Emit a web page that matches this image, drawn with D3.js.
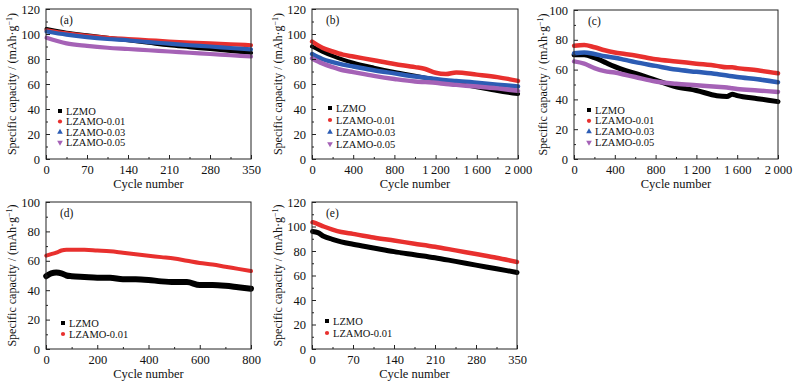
<!DOCTYPE html>
<html><head><meta charset="utf-8">
<script src="https://cdn.jsdelivr.net/npm/d3@7"></script>
<style>
body{margin:0;background:#fff;}
svg{display:block;}
text{font-family:"Liberation Serif","Times New Roman",serif;fill:#111;font-weight:normal;}
</style></head>
<body>
<svg id="chart" width="796" height="388"></svg>
<script>
// ---------- DATA ----------
const seriesNames = ["LZMO", "LZAMO-0.01", "LZAMO-0.03", "LZAMO-0.05"];

const aCycles = [1, 35, 70, 105, 140, 175, 210, 245, 280, 315, 350];
const aLZMO   = [104, 101, 99, 97, 95, 93, 91, 89.5, 88, 86.5, 85];
const aL001   = [103, 100.5, 98.5, 97, 96, 95, 94, 93.2, 92.5, 91.8, 91];
const aL003   = [102, 99.5, 97.5, 96, 95, 93.5, 92.3, 91, 90, 88.8, 87.7];
const aL005   = [97, 92.5, 90.5, 89, 88, 87, 86, 85, 84, 83, 82];

const bCycles = [1, 100, 200, 300, 400, 600, 800, 1000, 1100, 1200, 1300, 1400, 1600, 1800, 2000];
const bLZMO   = [90, 86, 82.5, 79.5, 77, 73, 69.5, 66.5, 65, 63.5, 62, 60.5, 57.5, 54.5, 52];
const bL001   = [94, 89, 86, 83.5, 82, 79, 76, 73.5, 72, 69, 68, 69.3, 67.5, 65.5, 62.5];
const bL003   = [84, 80, 77.5, 75.5, 74, 71, 68.5, 66, 65, 64, 63, 62.5, 61, 59.5, 58];
const bL005   = [80.5, 76.5, 73.5, 71, 69.5, 66.5, 64, 62, 61.5, 61, 60, 59.3, 58, 56.5, 54.5];

const cCycles = [1, 100, 200, 300, 400, 500, 600, 800, 1000, 1200, 1400, 1500, 1550, 1600, 1800, 2000];
const cLZMO   = [70, 70, 68, 65, 62, 59.5, 57.5, 53, 48.5, 46, 42.5, 42, 43.5, 42.5, 40.5, 38.5];
const cL001   = [76, 76.5, 75, 73, 71.5, 70.5, 69.5, 67, 65.5, 64, 62.5, 61.5, 61.5, 61, 59.5, 57.5];
const cL003   = [71, 71.5, 70.5, 69, 68, 66.5, 65, 62.5, 60, 58.5, 57, 56, 55.5, 55, 53.5, 51.5];
const cL005   = [65.5, 64, 61, 59, 58, 56.5, 55, 52, 50.5, 49.5, 48.5, 48, 47.5, 47, 46, 45];

const dCycles = [1, 20, 40, 60, 80, 100, 150, 200, 250, 300, 350, 400, 450, 500, 550, 600, 650, 700, 750, 800];
const dLZMO   = [49.5, 51.5, 52, 51.5, 50, 49.5, 49, 48.5, 48.5, 47.5, 47.5, 47, 46, 45.5, 45.5, 43.5, 43.5, 43, 42, 41];
const dL001   = [63.5, 64.5, 65.5, 67, 67.5, 67.5, 67.5, 67, 66.5, 65.5, 64.5, 63.5, 62.5, 61.5, 60, 58.5, 57.5, 56, 54.5, 53];

const eCycles = [1, 10, 20, 35, 50, 70, 105, 140, 175, 210, 245, 280, 315, 350];
const eLZMO   = [96, 95, 92, 89.5, 87.5, 85.5, 82.5, 79.5, 77, 74.5, 71.5, 68.5, 65.5, 62.5];
const eL001   = [103.5, 102, 100, 97.5, 95.5, 94, 91, 88.5, 86, 83.5, 80.5, 77.5, 74.5, 71];

const ticks350  = [0, 70, 140, 210, 280, 350];
const ticks2000 = [0, 400, 800, 1200, 1600, 2000];
const ticks800  = [0, 200, 400, 600, 800];
const labels2000 = ["0", "400", "800", "1\u2009200", "1\u2009600", "2\u2009000"];
const yTicks120 = [0, 20, 40, 60, 80, 100, 120];
const yTicks100 = [0, 20, 40, 60, 80, 100];

// ---------- STYLE ----------
const colors = ["#000000", "#e8302e", "#2c5cb4", "#a562b6"];
const symbols = [d3.symbolSquare, d3.symbolCircle, d3.symbolTriangle, d3.symbolTriangle];

const svg = d3.select("#chart");

const panels = [
  {tag:"(a)", L:46, T:9, W:205, H:150, xMax:350, yMax:120, xt:ticks350, xl:null, yt:yTicks120,
   cyc:aCycles, ser:[aLZMO,aL001,aL003,aL005], widths:[4.2,4.2,4.2,4.2], legX:60, legY:111, legDy:10.5, ylabX:12},
  {tag:"(b)", L:312, T:9, W:206, H:150, xMax:2000, yMax:120, xt:ticks2000, xl:labels2000, yt:yTicks120,
   cyc:bCycles, ser:[bLZMO,bL001,bL003,bL005], widths:[4.2,4.5,4.5,4.5], legX:330, legY:108, legDy:12, ylabX:278},
  {tag:"(c)", L:574, T:10, W:204, H:149, xMax:2000, yMax:100, xt:ticks2000, xl:labels2000, yt:yTicks100,
   cyc:cCycles, ser:[cLZMO,cL001,cL003,cL005], widths:[5,4.5,4.5,4.5], legX:589, legY:110, legDy:10.8, ylabX:543},
  {tag:"(d)", L:46, T:202, W:205, H:147, xMax:800, yMax:100, xt:ticks800, xl:null, yt:yTicks100,
   cyc:dCycles, ser:[dLZMO,dL001], widths:[6,4], legX:63, legY:323, legDy:11, ylabX:12},
  {tag:"(e)", L:312, T:202, W:205, H:147, xMax:350, yMax:120, xt:ticks350, xl:null, yt:yTicks120,
   cyc:eCycles, ser:[eLZMO,eL001], widths:[5,4.5], legX:327, legY:321, legDy:12, ylabX:278}
];

panels.forEach(p => {
  const g = svg.append("g").attr("transform", `translate(${p.L},${p.T})`);
  const x = d3.scaleLinear().domain([0, p.xMax]).range([0, p.W]);
  const y = d3.scaleLinear().domain([0, p.yMax]).range([p.H, 0]);

  // data lines
  const line = d3.line().x(d => x(d[0])).y(d => y(d[1])).curve(d3.curveMonotoneX);
  p.ser.forEach((s, i) => {
    const pts = p.cyc.map((c, k) => [c, s[k]]);
    g.append("path").datum(pts).attr("d", line)
      .attr("fill", "none").attr("stroke", colors[i])
      .attr("stroke-width", p.widths[i]).attr("stroke-linecap", "round").attr("stroke-linejoin", "round");
  });

  // frame
  g.append("rect").attr("x", 0).attr("y", 0).attr("width", p.W).attr("height", p.H)
    .attr("fill", "none").attr("stroke", "#222").attr("stroke-width", 1);

  // minor ticks
  const xStep = p.xt[1] - p.xt[0];
  const yStep = p.yt[1] - p.yt[0];
  const xMinor = d3.range(xStep / 2, p.xMax, xStep);
  const yMinor = d3.range(yStep / 2, p.yMax, yStep);
  g.append("g").attr("transform", `translate(0,${p.H})`)
    .call(d3.axisBottom(x).tickValues(xMinor).tickSize(-2).tickFormat(""))
    .call(a => { a.select(".domain").remove(); a.selectAll("line").attr("stroke", "#222"); });
  g.append("g")
    .call(d3.axisLeft(y).tickValues(yMinor).tickSize(-2).tickFormat(""))
    .call(a => { a.select(".domain").remove(); a.selectAll("line").attr("stroke", "#222"); });

  // major axes
  const xa = d3.axisBottom(x).tickValues(p.xt).tickSizeInner(-4).tickSizeOuter(0).tickPadding(6)
    .tickFormat((d, i) => p.xl ? p.xl[i] : String(d));
  g.append("g").attr("transform", `translate(0,${p.H})`).call(xa)
    .call(a => {
      a.select(".domain").remove();
      a.selectAll("line").attr("stroke", "#222");
      a.selectAll("text").style("font-size", "12.5px").style("font-family", "'Liberation Serif',serif");
    });
  const ya = d3.axisLeft(y).tickValues(p.yt).tickSizeInner(-4).tickSizeOuter(0).tickPadding(6);
  g.append("g").call(ya)
    .call(a => {
      a.select(".domain").remove();
      a.selectAll("line").attr("stroke", "#222");
      a.selectAll("text").style("font-size", "12.5px").style("font-family", "'Liberation Serif',serif");
    });

  // tag
  g.append("text").attr("x", 14).attr("y", 15).style("font-size", "11.5px").text(p.tag);

  // axis titles
  svg.append("text").attr("x", p.L + p.W / 2).attr("y", p.T + p.H + 29)
    .attr("text-anchor", "middle").style("font-size", "12.5px").text("Cycle number");
  const yt = svg.append("text")
    .attr("transform", `translate(${p.ylabX},${p.T + p.H / 2}) rotate(-90)`)
    .attr("text-anchor", "middle").attr("dy", "0.35em").style("font-size", "12px");
  yt.append("tspan").text("Specific capacity / (mAh\u00b7g");
  yt.append("tspan").attr("dy", "-4").style("font-size", "8px").text("\u22121");
  yt.append("tspan").attr("dy", "4").text(")");

  // legend
  p.ser.forEach((s, i) => {
    const ly = p.legY + i * p.legDy;
    const sym = d3.symbol().type(symbols[i]).size(i === 0 ? 16 : 14);
    svg.append("path").attr("d", sym())
      .attr("transform", `translate(${p.legX},${ly})` + (i === 3 ? " rotate(180)" : ""))
      .attr("fill", colors[i]);
    svg.append("text").attr("x", p.legX + 6).attr("y", ly).attr("dy", "0.35em")
      .style("font-size", "10.5px").text(seriesNames[i]);
  });
});
</script>
</body></html>
